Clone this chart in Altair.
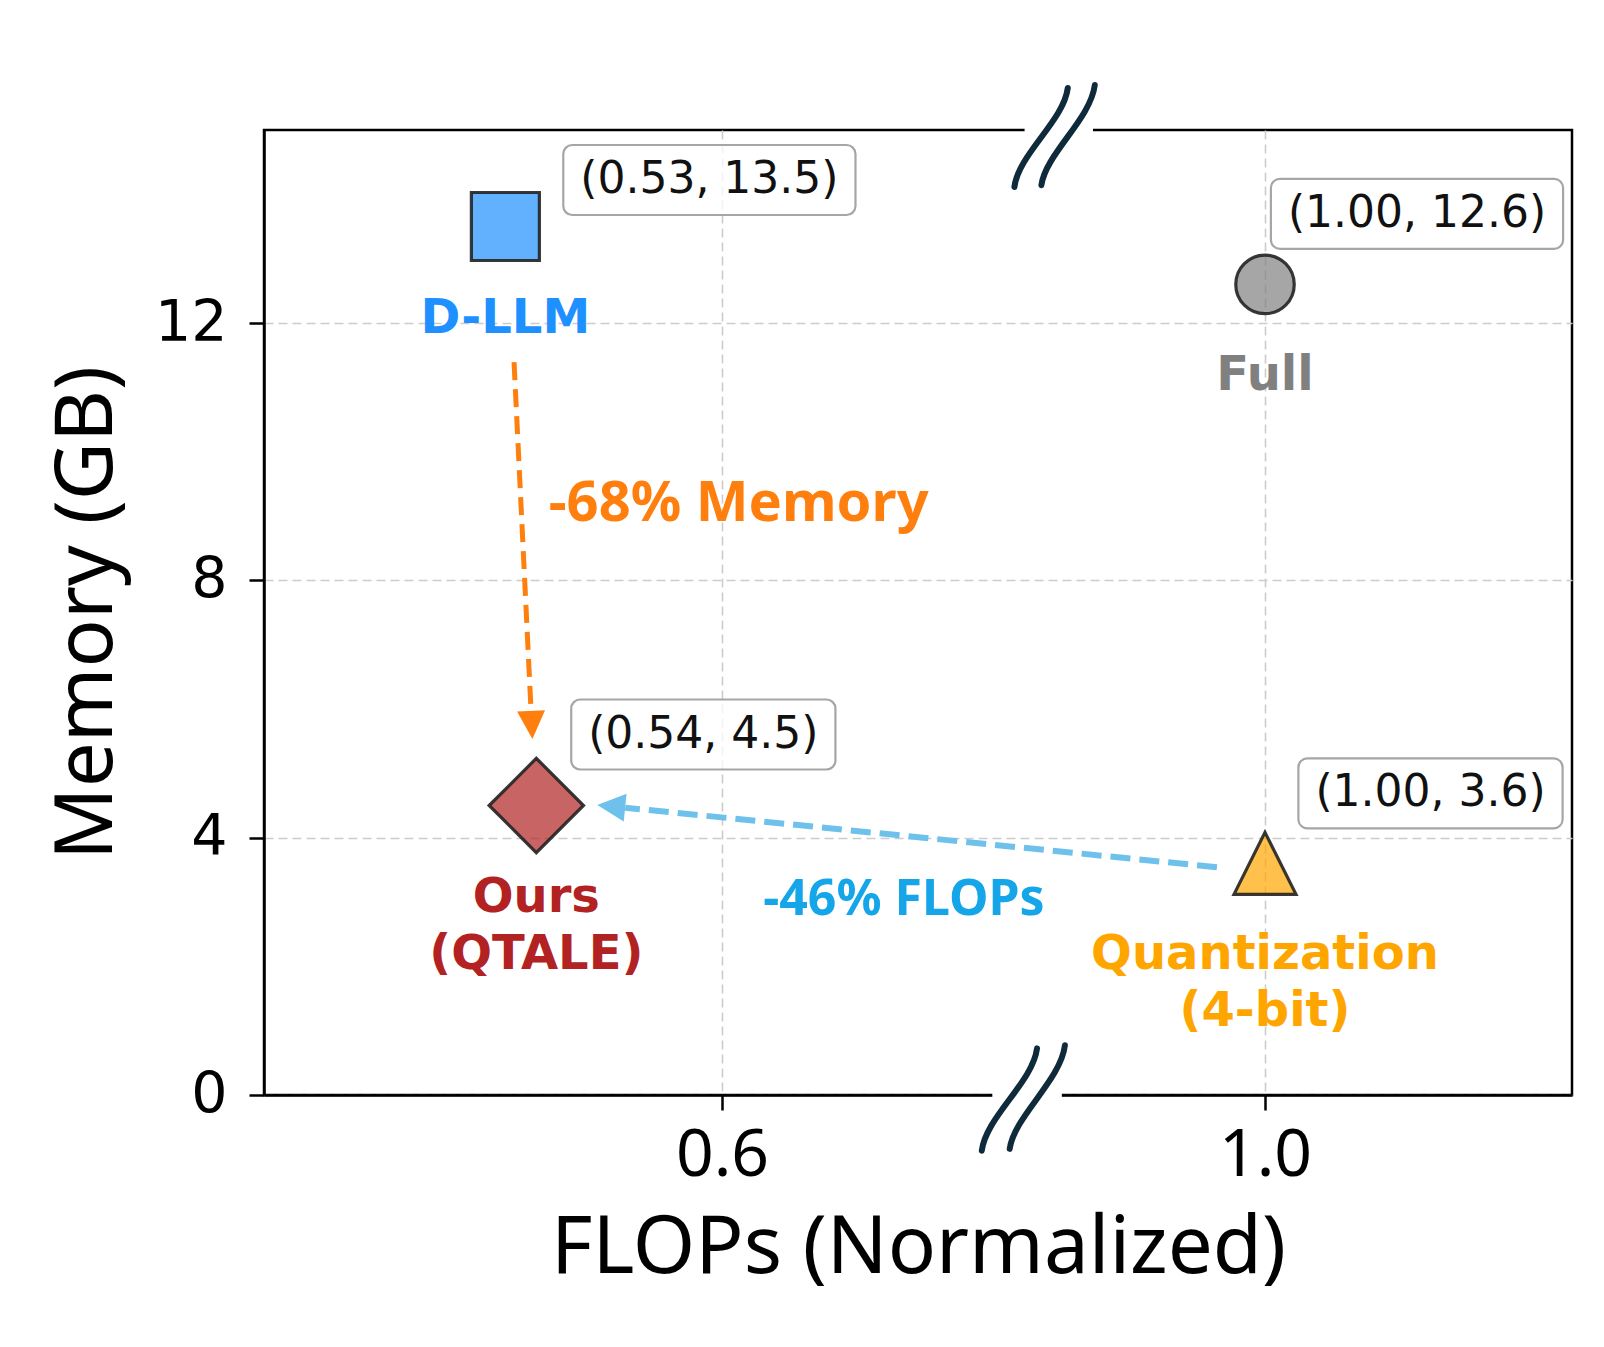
import altair as alt
import pandas as pd

# ---------------- data ----------------
methods = ["D-LLM", "Full", "Ours\n(QTALE)", "Quantization\n(4-bit)"]
flops = [0.53, 1.00, 0.54, 1.00]
memory = [13.5, 12.6, 4.5, 3.6]

mem_arrow_x = [0.5328, 0.5383]
mem_arrow_y = [11.39, 5.97]
flop_arrow_x = [0.9646, 0.5687]
flop_arrow_y = [3.54, 4.466]

note_texts = ["-68% Memory", "-46% FLOPs"]
note_x = [0.544, 0.734]
note_y = [9.19, 3.03]

x_ticks = [0.6, 1.0]
y_ticks = [0, 4, 8, 12]
x_domain = [0.452, 0.6, 1.0, 1.1]   # broken (piecewise) axis
y_domain = [0, 15]
break_x = [0.845, 0.822]            # top, bottom break positions

# ---------------- styles ----------------
W, H = 1308, 965
marker_fill = ["#1E90FF", "#808080", "#B22222", "#FFA500"]
label_color = ["#1E90FF", "#808080", "#B22222", "#FFA500"]
marker_shape = ["square", "circle", "diamond", "M 0 -1 L 1 1 L -1 1 Z"]
marker_size = [4624, 3420, 8900, 3844]
ann_offset = [(204, -46.5), (152, -70.5), (167, -71), (165.5, -70)]
ANN_FS = 44
BOX_H = 70


def dejavu_width(s, fs):
    w = {"(": 0.390, ")": 0.390, ".": 0.318, ",": 0.318, " ": 0.318}
    return sum(w.get(c, 0.636) for c in s) * fs


x_scale = alt.Scale(domain=x_domain, range=[0, 458, 1001, W], nice=False, zero=False)
y_scale = alt.Scale(domain=y_domain, nice=False, zero=False)

x_axis = alt.Axis(
    values=x_ticks, format=".1f", title="FLOPs (Normalized)",
    labelFont="Noto Sans", labelFontSize=66, labelColor="black", labelPadding=13,
    tickSize=15, tickWidth=2.5, tickColor="black",
    domainColor="black", domainWidth=2.5,
    grid=True, gridColor="#cccccc", gridDash=[9, 5], gridWidth=1.6,
    titleFont="Noto Sans", titleFontSize=80, titleFontWeight="normal", titleColor="black",
    titleY=114, titleBaseline="top",
)
y_axis = alt.Axis(
    values=y_ticks, title="Memory (GB)",
    labelFont="DejaVu Sans", labelFontSize=57, labelColor="black", labelPadding=22,
    tickSize=15, tickWidth=2.5, tickColor="black",
    domainColor="black", domainWidth=2.5,
    grid=True, gridColor="#cccccc", gridDash=[9, 5], gridWidth=1.6,
    titleFont="Noto Sans", titleFontSize=80, titleFontWeight="normal", titleColor="black",
    titleX=-153, titleBaseline="alphabetic",
)


def X(field="flops"):
    return alt.X(f"{field}:Q", scale=x_scale, axis=x_axis, title="FLOPs (Normalized)")


def Y(field="memory"):
    return alt.Y(f"{field}:Q", scale=y_scale, axis=y_axis, title="Memory (GB)")


layers = []

# axis breaks: white gaps on spines, then the "//" marks
break_path = ("M -0.67 0.85 C -0.6 0.3 0.15 -0.25 0.22 -0.8 "
              "M -0.22 0.82 C -0.15 0.3 0.6 -0.28 0.67 -0.85")
gap_top = "M -0.5 -0.06 L 0.64 -0.06 L 0.64 0.06 L -0.5 0.06 Z"
gap_bot = "M -0.5 -0.06 L 0.62 -0.06 L 0.62 0.06 L -0.5 0.06 Z"
brk_top = pd.DataFrame({"flops": [break_x[0]], "memory": [y_domain[1]]})
brk_bot = pd.DataFrame({"flops": [break_x[1]], "memory": [y_domain[0]]})
for df, gap, size, yoff in [(brk_top, gap_top, 14400, 6), (brk_bot, gap_bot, 15400, 3)]:
    layers.append(alt.Chart(df).mark_point(
        shape=gap, size=size, filled=True, fill="white", opacity=1, strokeWidth=0
    ).encode(x=X(), y=Y()))
    layers.append(alt.Chart(df).mark_point(
        shape=break_path, size=size, filled=False, stroke="#0f2a3a", strokeWidth=6,
        strokeCap="round", opacity=1, yOffset=yoff
    ).encode(x=X(), y=Y()))

# arrows
mem_df = pd.DataFrame({"flops": [mem_arrow_x[0]], "memory": [mem_arrow_y[0]],
                       "flops_end": [mem_arrow_x[1]], "memory_end": [mem_arrow_y[1]]})
flop_df = pd.DataFrame({"flops": [flop_arrow_x[0]], "memory": [flop_arrow_y[0]],
                        "flops_end": [flop_arrow_x[1]], "memory_end": [flop_arrow_y[1]]})
head_path = "M 0 -1 L 0.5 0 L -0.5 0 Z"
for df, col, width, dash, ang in [(mem_df, "#FF7F0E", 5, [18, 9], 177.2),
                                  (flop_df, "#6EC1EA", 6, [20, 9], 275.7)]:
    layers.append(alt.Chart(df).mark_rule(
        color=col, strokeWidth=width, strokeDash=dash
    ).encode(x=X(), y=Y(), x2="flops_end:Q", y2="memory_end:Q"))
    layers.append(alt.Chart(df).mark_point(
        shape=head_path, size=3136, filled=True, fill=col, opacity=1, strokeWidth=0, angle=ang
    ).encode(x=X("flops_end"), y=Y("memory_end")))

# notes
note_df0 = pd.DataFrame({"flops": [note_x[0]], "memory": [note_y[0]], "t": [note_texts[0]]})
note_df1 = pd.DataFrame({"flops": [note_x[1]], "memory": [note_y[1]], "t": [note_texts[1]]})
layers.append(alt.Chart(note_df0).mark_text(
    align="left", baseline="middle", font="Noto Sans", fontWeight="bold", fontSize=56,
    color="#FF7F0E"
).encode(x=X(), y=Y(), text="t:N"))
layers.append(alt.Chart(note_df1).mark_text(
    align="center", baseline="middle", font="Noto Sans", fontWeight="bold", fontSize=50,
    color="#14A6E8"
).encode(x=X(), y=Y(), text="t:N"))

# markers, labels, annotation boxes
for i in range(len(methods)):
    ann = f"({flops[i]:.2f}, {memory[i]:.1f})"
    df = pd.DataFrame({"flops": [flops[i]], "memory": [memory[i]],
                       "name": [methods[i]], "ann": [ann]})
    layers.append(alt.Chart(df).mark_point(
        shape=marker_shape[i], size=marker_size[i], filled=True,
        fill=marker_fill[i], fillOpacity=0.7, opacity=1,
        stroke="#222222", strokeWidth=3.2, strokeOpacity=0.9
    ).encode(x=X(), y=Y()))
    layers.append(alt.Chart(df).mark_text(
        align="center", baseline="alphabetic", dy=106, font="DejaVu Sans",
        fontWeight="bold", fontSize=48, lineBreak="\n", lineHeight=57,
        color=label_color[i]
    ).encode(x=X(), y=Y(), text="name:N"))
    dx, dy = ann_offset[i]
    bw = dejavu_width(ann, ANN_FS) + 34
    layers.append(alt.Chart(df).mark_rect(
        fill="white", fillOpacity=0.75, stroke="#a6a6a6", strokeWidth=2.2, cornerRadius=9,
        xOffset=dx - bw / 2, x2Offset=dx + bw / 2,
        yOffset=dy - BOX_H / 2, y2Offset=dy + BOX_H / 2
    ).encode(x=X(), y=Y(), x2="flops:Q", y2="memory:Q"))
    layers.append(alt.Chart(df).mark_text(
        align="center", baseline="middle", dx=dx, dy=dy, font="DejaVu Sans",
        fontSize=ANN_FS, color="#111111"
    ).encode(x=X(), y=Y(), text="ann:N"))

chart = alt.layer(*layers).properties(
    width=W, height=H,
    padding={"left": 256, "top": 122, "right": 16, "bottom": 244},
    autosize=alt.AutoSizeParams(type="none"),
).configure_view(stroke="black", strokeWidth=2.5)

chart.save("out.html", embed_options={"renderer": "svg", "actions": False})
